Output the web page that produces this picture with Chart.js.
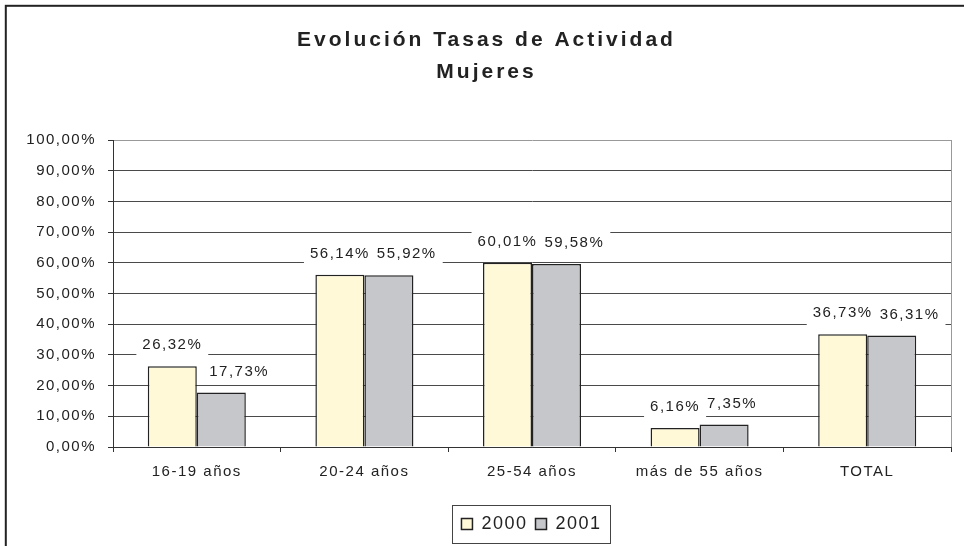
<!DOCTYPE html>
<html lang="es">
<head>
<meta charset="utf-8">
<title>Evolución Tasas de Actividad Mujeres</title>
<script src="https://cdn.jsdelivr.net/npm/chart.js@4/dist/chart.umd.min.js"></script>
<style>
  html, body { margin: 0; padding: 0; background: #fff; }
  canvas { display: block; }
</style>
</head>
<body>
<canvas id="grafico" width="964" height="546"></canvas>
<script>
// Datos del gráfico
const categorias = ['16-19 años', '20-24 años', '25-54 años', 'más de 55 años', 'TOTAL'];
const tasas2000 = [26.32, 56.14, 60.01, 6.16, 36.73];
const tasas2001 = [17.73, 55.92, 59.58, 7.35, 36.31];
const series = ['2000', '2001'];
const titulo = ['Evolución Tasas de Actividad', 'Mujeres'];

// Colores
const colores = {
  amarillo: '#FFF9D7',
  gris: '#C6C7CB',
  borde: '#222222',
  rejilla: '#4a4a4a',
  texto: '#222222'
};

// desplazamientos horizontales del título y la leyenda (no centrados en el original)
const despTitulo = 11;
const despLeyenda = 56;

const formatoPct = v => v.toFixed(2).replace('.', ',') + '%';

Chart.defaults.font.family = "'Liberation Sans', Arial, sans-serif";
Chart.defaults.color = colores.texto;

function envolver(obj, antes) {
  if (!obj || obj._envuelto) return;
  const orig = obj.draw;
  obj.draw = function() {
    const c = this.ctx;
    c.save();
    antes(c);
    orig.apply(this, arguments);
    c.restore();
    c.letterSpacing = '1.5px';
  };
  obj._envuelto = true;
}

// Espaciado de letras como en el original
const espaciado = {
  id: 'espaciado',
  beforeLayout(chart) {
    chart.ctx.letterSpacing = '1.5px';
  },
  beforeDraw(chart) {
    chart.ctx.letterSpacing = '1.5px';
    envolver(chart.titleBlock, c => { c.letterSpacing = '3px'; c.translate(despTitulo, 0); });
    envolver(chart.legend, c => { c.letterSpacing = '1.5px'; c.translate(despLeyenda, 0); });
  }
};

// Etiquetas de valor con fondo blanco, separadas si se pisan
const etiquetas = {
  id: 'etiquetas',
  afterDatasetsDraw(chart) {
    const ctx = chart.ctx;
    ctx.save();
    ctx.letterSpacing = '1.5px';
    ctx.font = "15px 'Liberation Sans', Arial, sans-serif";
    ctx.textAlign = 'center';
    ctx.textBaseline = 'middle';
    const m0 = chart.getDatasetMeta(0).data;
    const m1 = chart.getDatasetMeta(1).data;
    categorias.forEach((c, j) => {
      const items = [[m0[j], tasas2000[j]], [m1[j], tasas2001[j]]].map(([bar, v]) => {
        const txt = formatoPct(v);
        return { txt, w: ctx.measureText(txt).width, x: bar.x, y: bar.y - 21 };
      });
      const a = items[0], b = items[1];
      const minX = a.x + a.w / 2 + 7 + b.w / 2;
      if (b.x < minX) b.x = minX;
      const limite = chart.width - 16;
      if (b.x + b.w / 2 > limite) {
        const d = b.x + b.w / 2 - limite;
        b.x -= d; a.x -= d;
      }
      items.forEach(it => {
        ctx.fillStyle = '#fff';
        ctx.fillRect(it.x - it.w / 2 - 6, it.y - 12, it.w + 12, 24);
      });
      items.forEach(it => {
        ctx.fillStyle = colores.texto;
        ctx.fillText(it.txt, it.x, it.y);
      });
    });
    ctx.restore();
  }
};

// Marco exterior, borde derecho del área y recuadro de la leyenda
const marcos = {
  id: 'marcos',
  afterDraw(chart) {
    const ctx = chart.ctx;
    const a = chart.chartArea;
    ctx.save();
    ctx.strokeStyle = '#999';
    ctx.lineWidth = 1;
    ctx.beginPath();
    ctx.moveTo(Math.round(a.right) + 0.5, a.top);
    ctx.lineTo(Math.round(a.right) + 0.5, a.bottom);
    ctx.stroke();

    const hb = chart.legend.legendHitBoxes;
    if (hb && hb.length) {
      const izq = Math.min(...hb.map(h => h.left)) - 9 + despLeyenda;
      const der = Math.max(...hb.map(h => h.left + h.width)) + 9 + despLeyenda;
      const arr = hb[0].top - 10;
      const alto = hb[0].height + 20;
      ctx.strokeStyle = '#444';
      ctx.strokeRect(Math.round(izq) + 0.5, Math.round(arr) + 0.5, Math.round(der - izq), Math.round(alto));
    }

    ctx.strokeStyle = '#222';
    ctx.lineWidth = 2;
    ctx.strokeRect(5.8, 5.8, 1200, 1200);
    ctx.restore();
  }
};

new Chart(document.getElementById('grafico').getContext('2d'), {
  type: 'bar',
  data: {
    labels: categorias,
    datasets: [{
      label: series[0],
      data: tasas2000,
      backgroundColor: colores.amarillo,
      borderColor: colores.borde,
      borderWidth: 1.5
    }, {
      label: series[1],
      data: tasas2001,
      backgroundColor: colores.gris,
      borderColor: colores.borde,
      borderWidth: 1.5
    }]
  },
  options: {
    responsive: false,
    animation: false,
    layout: { padding: { left: 0, right: 13, top: 0, bottom: 3 } },
    datasets: {
      bar: { categoryPercentage: 0.585, barPercentage: 1.0 }
    },
    plugins: {
      title: {
        display: true,
        text: titulo,
        color: colores.texto,
        font: { size: 21, weight: 'bold', lineHeight: 32 / 21 },
        padding: { top: 24, bottom: 52 }
      },
      legend: {
        position: 'bottom',
        labels: {
          boxWidth: 11,
          boxHeight: 11,
          padding: 8,
          color: colores.texto,
          font: { size: 18 }
        }
      },
      tooltip: { enabled: false }
    },
    scales: {
      x: {
        grid: {
          display: true,
          drawOnChartArea: false,
          drawTicks: true,
          tickLength: 5,
          tickColor: '#333',
          offset: true
        },
        border: { color: '#333', width: 1 },
        ticks: { padding: 11, font: { size: 15 }, color: colores.texto },
        afterFit(scale) { scale.height = 60; }
      },
      y: {
        min: 0,
        max: 100,
        ticks: {
          stepSize: 10,
          padding: 12,
          font: { size: 15 },
          color: colores.texto,
          callback: v => formatoPct(v)
        },
        grid: {
          color: ctx => (ctx.tick && ctx.tick.value === 100) ? '#999' : colores.rejilla,
          tickColor: '#333',
          tickLength: 5
        },
        border: { color: '#333', width: 1 },
        afterFit(scale) { scale.width = 113; }
      }
    }
  },
  plugins: [espaciado, etiquetas, marcos]
});
</script>
</body>
</html>
